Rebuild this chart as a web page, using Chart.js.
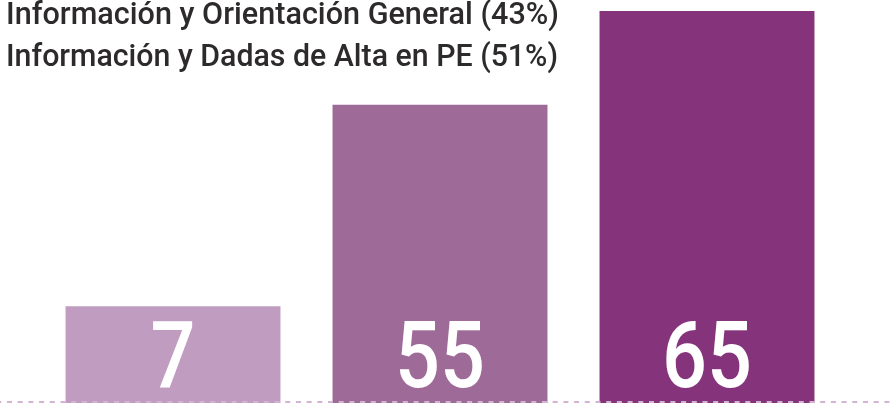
<!DOCTYPE html>
<html lang="es">
<head>
  <meta charset="UTF-8" />
  <title>Información</title>
  <script src="https://cdn.jsdelivr.net/npm/chart.js"></script>
  <style>
    body { margin: 0; background: #fff; }
    .wrap { width: 890px; height: 403px; position: relative; }
  </style>
</head>
<body>
  <div class="wrap"><canvas id="barChart"></canvas></div>

  <script>
    // datos
    const categories = ['A', 'B', 'C'];
    const shownValues = [7, 55, 65];
    // altura relativa de cada barra (la imagen no es proporcional a los valores)
    const barHeights = [24, 74, 97.3];
    const barColors = ['#c09cc0', '#9e6a98', '#85347b'];
    const legendLines = [
      'Información y Orientación General (43%)',
      'Información y Dadas de Alta en PE (51%)'
    ];

    // dibuja un texto ajustado a un ancho dado
    function fitText(ctx, text, x, y, width) {
      const w = ctx.measureText(text).width;
      ctx.save();
      ctx.translate(x, y);
      ctx.scale(width / w, 1);
      ctx.fillText(text, 0, 0);
      ctx.restore();
    }

    const overlay = {
      id: 'overlay',
      afterDatasetsDraw(chart) {
        const ctx = chart.ctx;
        // línea punteada de base
        ctx.save();
        ctx.strokeStyle = '#d2b3d2';
        ctx.lineWidth = 2;
        ctx.setLineDash([5, 5.7]);
        ctx.lineDashOffset = -7;
        ctx.beginPath();
        ctx.moveTo(0, 402);
        ctx.lineTo(chart.width, 402);
        ctx.stroke();
        ctx.restore();

        // números dentro de las barras
        const meta = chart.getDatasetMeta(0);
        ctx.save();
        ctx.fillStyle = '#ffffff';
        ctx.font = '500 92px Roboto';
        ctx.textBaseline = 'alphabetic';
        meta.data.forEach((bar, i) => {
          const txt = String(shownValues[i]);
          const target = txt.length * 45;
          fitText(ctx, txt, bar.x - target / 2, 387, target);
        });
        ctx.restore();

        // leyenda
        ctx.save();
        ctx.fillStyle = '#2d2a2c';
        ctx.font = '500 31px Roboto';
        fitText(ctx, legendLines[0], 6, 24, 553);
        fitText(ctx, legendLines[1], 6, 66, 552);
        ctx.restore();
      }
    };

    new Chart(document.getElementById('barChart'), {
      type: 'bar',
      data: {
        labels: categories,
        datasets: [{
          data: barHeights,
          backgroundColor: barColors,
          borderWidth: 0,
          categoryPercentage: 1,
          barPercentage: 0.805
        }]
      },
      options: {
        responsive: true,
        maintainAspectRatio: false,
        animation: false,
        layout: { padding: { left: 39.5, right: 49.5, top: 0, bottom: 0 } },
        plugins: { legend: { display: false }, tooltip: { enabled: false } },
        scales: {
          x: { display: false },
          y: { display: false, min: 0, max: 100 }
        }
      },
      plugins: [overlay]
    });
  </script>
</body>
</html>
